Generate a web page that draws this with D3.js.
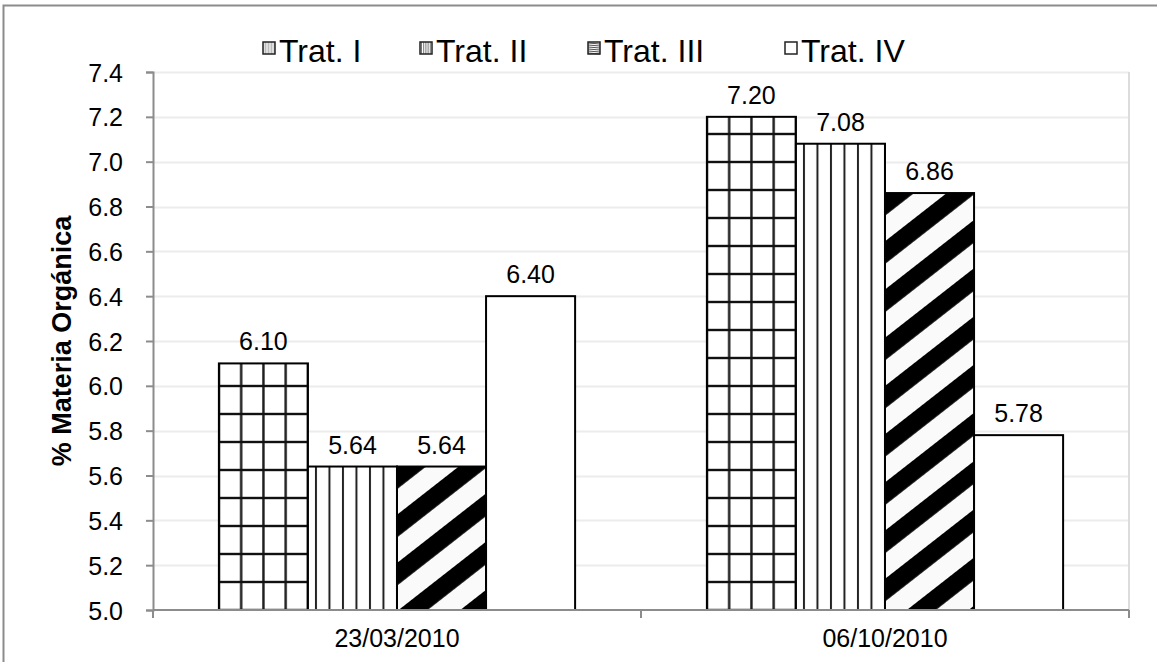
<!DOCTYPE html>
<html>
<head>
<meta charset="utf-8">
<script src="https://cdn.jsdelivr.net/npm/d3@7"></script>
<style>
	body { margin: 0; background: #fff; }
	text { font-family: "Liberation Sans", Arial, sans-serif; fill: #000; }
</style>
</head>
<body>
<div id="chart-area"></div>
<script>
let width = 1157;
let height = 662;

// data
let categories = ["23/03/2010", "06/10/2010"];
let series = ["Trat. I", "Trat. II", "Trat. III", "Trat. IV"];
let tratI = [6.10, 7.20];
let tratII = [5.64, 7.08];
let tratIII = [5.64, 6.86];
let tratIV = [6.40, 5.78];
let yTicks = [5.0, 5.2, 5.4, 5.6, 5.8, 6.0, 6.2, 6.4, 6.6, 6.8, 7.0, 7.2, 7.4];

let values = [tratI, tratII, tratIII, tratIV];
let rows = [];
categories.forEach((c, ci) => {
	series.forEach((s, si) => {
		rows.push({ cat: c, ci: ci, series: s, si: si, value: values[si][ci] });
	});
});

let plot = { left: 153, right: 1129, top: 72, bottom: 610 };

let svg = d3.select("#chart-area")
	.append("svg")
	.attr("width", width)
	.attr("height", height);

// outer chart border (right/bottom edges fall outside the window)
svg.append("rect")
	.attr("x", 3.5).attr("y", 5.5)
	.attr("width", width + 10).attr("height", height + 10)
	.attr("fill", "#fff")
	.attr("stroke", "#8c8c8c")
	.attr("stroke-width", 2);

let x0 = d3.scaleBand()
	.domain(categories)
	.range([plot.left, plot.right])
	.padding(0);

let x1 = d3.scaleBand()
	.domain(series)
	.range([0, x0.bandwidth()])
	.paddingInner(0)
	.paddingOuter(0.74);

let y = d3.scaleLinear()
	.domain([5.0, 7.4])
	.range([plot.bottom, plot.top]);

let defs = svg.append("defs");

// fill patterns, one per bar so the tiles line up with the bar's edges
function addPattern(id, kind, bx, by) {
	let bw = x1.bandwidth();
	if (kind === 0) {
		// grid
		let pw = bw / 4, ph = 28;
		let p = defs.append("pattern").attr("id", id)
			.attr("patternUnits", "userSpaceOnUse")
			.attr("x", bx - pw / 2).attr("y", plot.bottom - ph / 2)
			.attr("width", pw).attr("height", ph);
		p.append("rect").attr("width", pw).attr("height", ph).attr("fill", "#fff");
		p.append("rect").attr("x", pw / 2 - 1.2).attr("y", 0).attr("width", 2.4).attr("height", ph).attr("fill", "#1a1a1a");
		p.append("rect").attr("x", 0).attr("y", ph / 2 - 1.2).attr("width", pw).attr("height", 2.4).attr("fill", "#111");
	} else if (kind === 1) {
		// vertical stripes
		let pw = 13.5;
		let p = defs.append("pattern").attr("id", id)
			.attr("patternUnits", "userSpaceOnUse")
			.attr("x", bx + 8 - pw / 2).attr("y", 0)
			.attr("width", pw).attr("height", 10);
		p.append("rect").attr("width", pw).attr("height", 10).attr("fill", "#fff");
		p.append("rect").attr("x", pw / 2 - 1).attr("width", 2).attr("height", 10).attr("fill", "#222");
	} else if (kind === 2) {
		// wide diagonal stripes
		let pp = 38;
		let p = defs.append("pattern").attr("id", id)
			.attr("patternUnits", "userSpaceOnUse")
			.attr("x", 0).attr("y", by)
			.attr("width", 20).attr("height", pp)
			.attr("patternTransform", `rotate(-38 ${bx} ${by})`);
		p.append("rect").attr("width", 20).attr("height", pp).attr("fill", "#fafafa");
		p.append("rect").attr("y", 0).attr("width", 20).attr("height", pp * 0.47).attr("fill", "#000");
	}
}

// light gridlines
svg.append("g")
	.selectAll("line")
	.data(yTicks.slice(1))
	.enter()
	.append("line")
	.attr("x1", plot.left).attr("x2", plot.right)
	.attr("y1", d => Math.round(y(d)) + 0.5).attr("y2", d => Math.round(y(d)) + 0.5)
	.attr("stroke", "#ececec")
	.attr("stroke-width", 2);

// plot-area right edge
svg.append("line")
	.attr("x1", plot.right).attr("x2", plot.right)
	.attr("y1", plot.top).attr("y2", plot.bottom)
	.attr("stroke", "#dcdcdc")
	.attr("stroke-width", 2);

// bars
rows.forEach((d, i) => {
	let bx = x0(d.cat) + x1(d.series);
	let by = y(d.value);
	let id = "pat-" + i;
	if (d.si < 3) addPattern(id, d.si, bx, by);
	d.fill = d.si < 3 ? `url(#${id})` : "#fff";
});

svg.append("g")
	.selectAll("rect")
	.data(rows)
	.enter()
	.append("rect")
	.attr("x", d => x0(d.cat) + x1(d.series))
	.attr("y", d => y(d.value))
	.attr("width", x1.bandwidth())
	.attr("height", d => y(5.0) - y(d.value))
	.attr("fill", d => d.fill)
	.attr("stroke", "#000")
	.attr("stroke-width", 2);

// value labels
svg.append("g")
	.selectAll("text")
	.data(rows)
	.enter()
	.append("text")
	.attr("x", d => x0(d.cat) + x1(d.series) + x1.bandwidth() / 2)
	.attr("y", d => y(d.value) - 13)
	.attr("text-anchor", "middle")
	.style("font-size", "25px")
	.text(d => d3.format(".2f")(d.value));

// y axis
let yAxis = d3.axisLeft(y)
	.tickValues(yTicks)
	.tickFormat(d3.format(".1f"))
	.tickSize(7)
	.tickPadding(23);

let yG = svg.append("g")
	.attr("transform", `translate(${plot.left}, 0)`)
	.call(yAxis);
yG.select(".domain").attr("stroke", "#8c8c8c").attr("stroke-width", 2);
yG.selectAll(".tick line").attr("stroke", "#8c8c8c").attr("stroke-width", 2);
yG.selectAll(".tick text")
	.attr("dy", "0.36em")
	.style("font-family", "'Liberation Sans', Arial, sans-serif")
	.style("font-size", "25px")
	.attr("fill", "#000");

// x axis: ticks sit at category boundaries
let xAxis = d3.axisBottom(x0).tickSize(0).tickPadding(19);
let xG = svg.append("g")
	.attr("transform", `translate(0, ${plot.bottom})`)
	.call(xAxis);
xG.select(".domain").attr("d", `M${plot.left},0H${plot.right}`).attr("stroke", "#8c8c8c").attr("stroke-width", 2);
xG.selectAll(".tick text")
	.attr("dy", "0.71em")
	.style("font-family", "'Liberation Sans', Arial, sans-serif")
	.style("font-size", "25px")
	.attr("fill", "#000");

let bounds = categories.map(c => x0(c)).concat([plot.right]);
xG.selectAll(".bound")
	.data(bounds)
	.enter()
	.append("line")
	.attr("class", "bound")
	.attr("x1", d => d).attr("x2", d => d)
	.attr("y1", 0).attr("y2", 8)
	.attr("stroke", "#8c8c8c")
	.attr("stroke-width", 2);

// y axis title
svg.append("text")
	.attr("transform", `translate(71, ${(plot.top + plot.bottom) / 2}) rotate(-90)`)
	.attr("text-anchor", "middle")
	.style("font-size", "27px")
	.style("font-weight", "bold")
	.text("% Materia Orgánica");

// legend
let legendX = [263, 420, 588, 785];
let legend = svg.append("g");

function legendIcon(g, si) {
	let s = 12;
	let ic = g.append("g").attr("transform", "translate(0, -20)");
	ic.append("rect").attr("width", s).attr("height", s).attr("fill", "#fff");
	if (si === 0) {
		for (let k = 1; k < s; k += 1.5) {
			ic.append("line").attr("x1", k).attr("x2", k).attr("y1", 0).attr("y2", s)
				.attr("stroke", "#aaa").attr("stroke-width", 0.8);
		}
	} else if (si === 1) {
		for (let k = 1.5; k < s; k += 2.2) {
			ic.append("line").attr("x1", k).attr("x2", k).attr("y1", 0).attr("y2", s)
				.attr("stroke", "#777").attr("stroke-width", 1);
		}
	} else if (si === 2) {
		for (let k = 1; k < s; k += 2) {
			ic.append("line").attr("x1", 0).attr("x2", s).attr("y1", k).attr("y2", k + 1)
				.attr("stroke", "#555").attr("stroke-width", 1.2);
		}
	}
	ic.append("rect").attr("width", s).attr("height", s)
		.attr("fill", "none").attr("stroke", "#222").attr("stroke-width", 1.5);
}

series.forEach((s, si) => {
	let g = legend.append("g").attr("transform", `translate(${legendX[si]}, 62)`);
	legendIcon(g, si);
	g.append("text")
		.attr("x", 16)
		.attr("y", 0)
		.style("font-size", "32px")
		.text(s);
});
</script>
</body>
</html>
